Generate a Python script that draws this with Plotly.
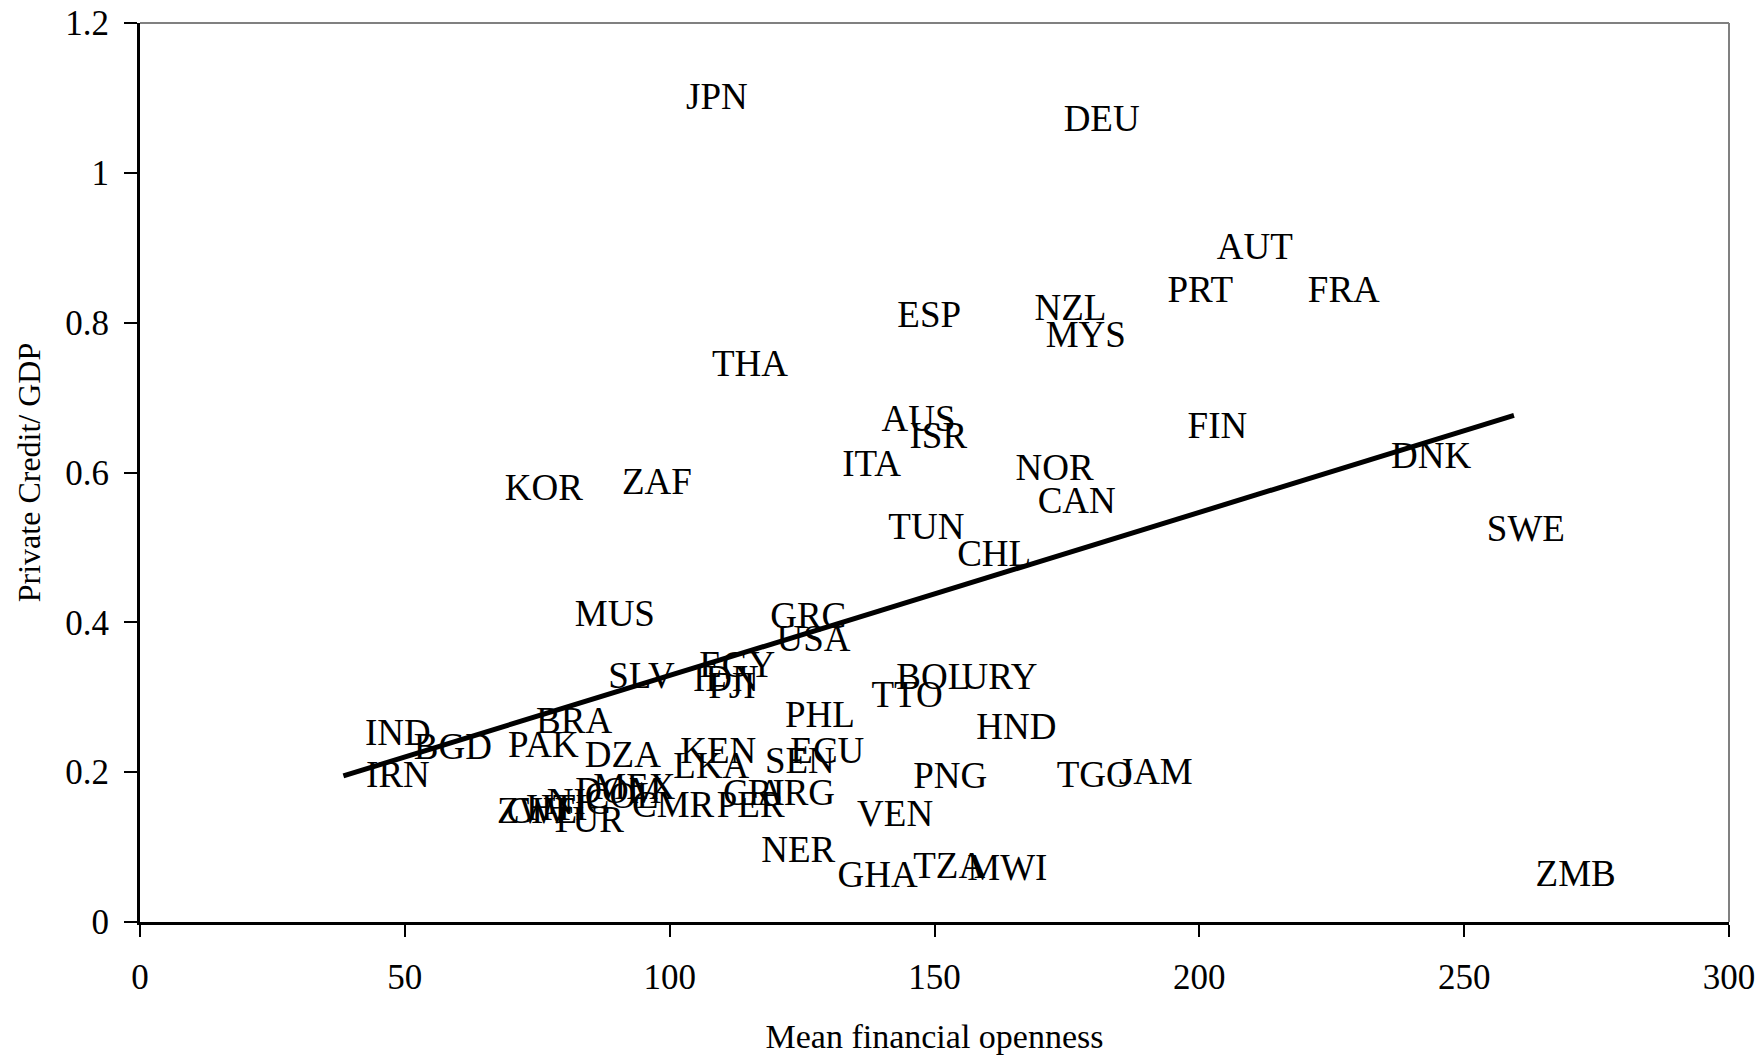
import plotly.graph_objects as go

# Country codes
countries = [
    "JPN", "DEU", "AUT", "PRT", "FRA", "ESP", "NZL", "MYS", "THA", "AUS",
    "ISR", "FIN", "DNK", "ITA", "NOR", "CAN", "KOR", "ZAF", "TUN", "CHL",
    "SWE", "MUS", "GRC", "USA", "EGY", "SLV", "IDN", "FJI", "BOL", "URY",
    "TTO", "PHL", "HND", "IND", "BGD", "BRA", "PAK", "DZA", "KEN", "LKA",
    "SEN", "ECU", "IRN", "PNG", "TGO", "JAM", "MEX", "DOM", "COL", "CRI",
    "ARG", "PER", "CMR", "ZWE", "CIV", "HTI", "NIC", "TUR", "VEN", "NER",
    "GHA", "TZA", "MWI", "ZMB",
]

# Mean financial openness
openness = [
    99.0, 170.3, 199.2, 189.9, 216.4, 138.9, 164.8, 166.9, 103.9, 135.9,
    141.2, 193.7, 232.1, 128.5, 161.2, 165.4, 64.8, 86.9, 137.2, 150.2,
    250.2, 78.0, 114.9, 116.1, 101.5, 84.3, 100.3, 103.2, 138.7, 151.0,
    134.0, 117.7, 153.8, 38.4, 47.6, 70.7, 65.4, 79.9, 97.9, 96.6,
    113.9, 118.7, 38.6, 141.9, 169.0, 180.7, 81.5, 78.1, 79.9, 106.0,
    112.4, 104.8, 88.8, 63.3, 65.1, 68.8, 72.7, 73.3, 131.3, 113.2,
    127.6, 141.9, 152.1, 259.4,
]

# Private credit / GDP
private_credit = [
    1.097, 1.068, 0.897, 0.840, 0.840, 0.806, 0.816, 0.780, 0.741, 0.668,
    0.645, 0.659, 0.618, 0.608, 0.603, 0.558, 0.576, 0.584, 0.523, 0.487,
    0.521, 0.408, 0.405, 0.374, 0.340, 0.325, 0.321, 0.312, 0.324, 0.324,
    0.300, 0.272, 0.257, 0.249, 0.230, 0.265, 0.232, 0.219, 0.225, 0.205,
    0.211, 0.225, 0.192, 0.191, 0.192, 0.197, 0.177, 0.171, 0.164, 0.168,
    0.168, 0.153, 0.153, 0.144, 0.145, 0.148, 0.156, 0.132, 0.141, 0.092,
    0.059, 0.071, 0.068, 0.060,
]

# Linear trend: private credit = intercept + slope * openness
trend_intercept = 0.1114
trend_slope = 0.002177

x_ticks = [0, 50, 100, 150, 200, 250, 300]
y_ticks = [0, 0.2, 0.4, 0.6, 0.8, 1.0, 1.2]
y_tick_text = ["0", "0.2", "0.4", "0.6", "0.8", "1", "1.2"]

FONT = "Liberation Serif, Times New Roman, serif"

trend_x = [min(openness), max(openness)]
trend_y = [trend_intercept + trend_slope * v for v in trend_x]

fig = go.Figure()

# Country labels sit to the right of invisible markers
fig.add_trace(go.Scatter(
    x=openness,
    y=private_credit,
    mode="markers+text",
    text=countries,
    textposition="middle right",
    textfont=dict(family=FONT, size=37, color="black"),
    marker=dict(size=33, color="rgba(0,0,0,0)"),
    hoverinfo="text",
    showlegend=False,
))

fig.add_trace(go.Scatter(
    x=trend_x,
    y=trend_y,
    mode="lines",
    line=dict(color="black", width=5),
    hoverinfo="skip",
    showlegend=False,
))

fig.update_layout(
    width=1763,
    height=1055,
    margin=dict(l=140, r=34, t=23, b=133),
    paper_bgcolor="white",
    plot_bgcolor="white",
    font=dict(family=FONT, size=36, color="black"),
    xaxis=dict(
        range=[0, 300],
        tickvals=x_ticks,
        ticks="outside",
        ticklen=12,
        tickwidth=1.5,
        tickcolor="black",
        showline=True,
        linecolor="black",
        linewidth=3,
        showgrid=False,
        zeroline=False,
        automargin=False,
        tickfont=dict(family=FONT, size=35),
        ticklabelstandoff=10,
        title=dict(text="Mean financial openness",
                   font=dict(family=FONT, size=34), standoff=31),
    ),
    yaxis=dict(
        range=[0, 1.2],
        tickvals=y_ticks,
        ticktext=y_tick_text,
        ticks="outside",
        ticklen=13,
        tickwidth=1.5,
        tickcolor="black",
        showline=True,
        linecolor="black",
        linewidth=3,
        showgrid=False,
        zeroline=False,
        automargin=False,
        tickfont=dict(family=FONT, size=35),
        ticklabelstandoff=8,
        title=dict(text="Private Credit/ GDP",
                   font=dict(family=FONT, size=32), standoff=16),
    ),
    shapes=[
        dict(type="line", xref="paper", yref="paper", x0=0, x1=1, y0=1, y1=1,
             line=dict(color="#808080", width=2)),
        dict(type="line", xref="paper", yref="paper", x0=1, x1=1, y0=0, y1=1,
             line=dict(color="#808080", width=2)),
    ],
)

fig.write_html("out.html")
